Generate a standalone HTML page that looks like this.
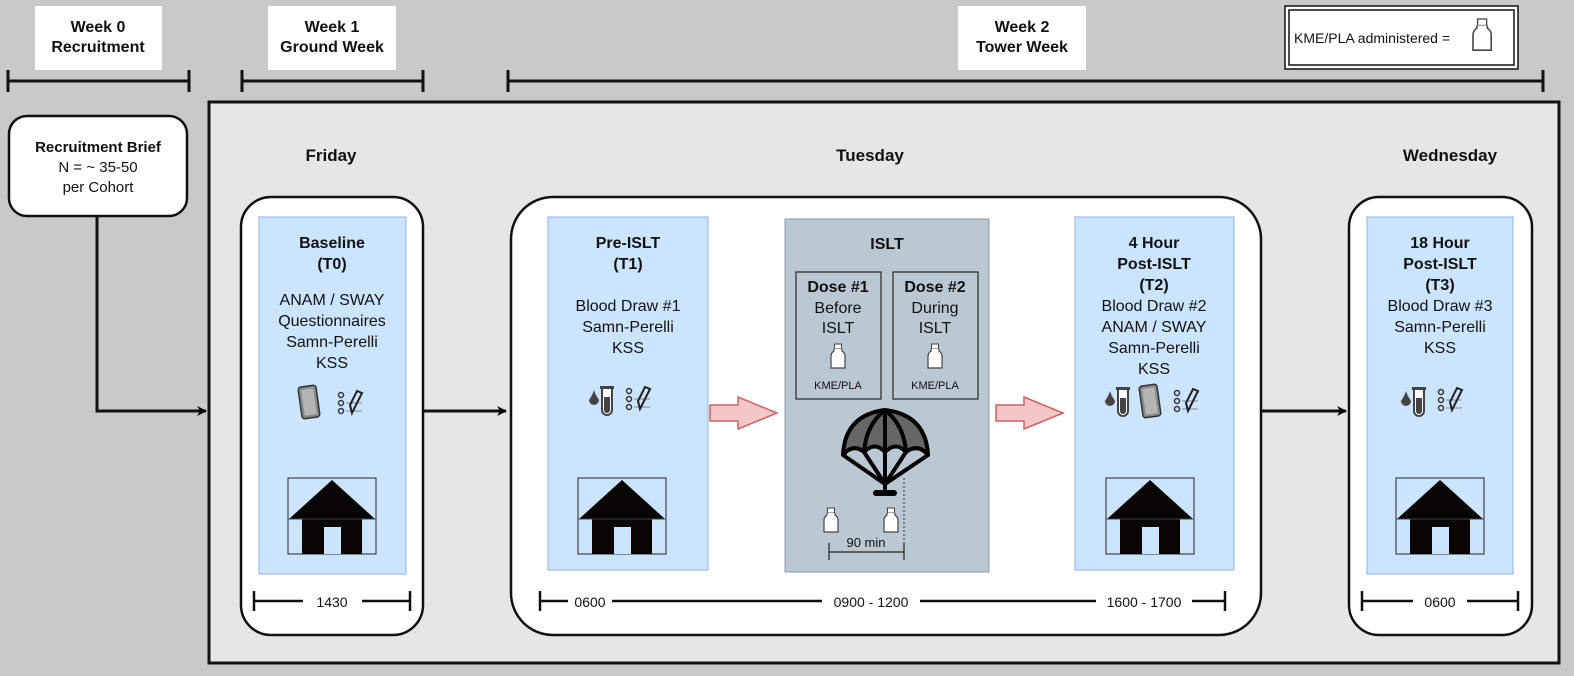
<!DOCTYPE html>
<html><head><meta charset="utf-8"><style>
html,body{margin:0;padding:0;background:#c9c9c9;}
svg{display:block;font-family:"Liberation Sans",Arial,sans-serif;}
</style></head><body>
<svg width="1574" height="676" viewBox="0 0 1574 676" xmlns="http://www.w3.org/2000/svg">
<defs>
  <marker id="ah" markerWidth="10" markerHeight="10" refX="9" refY="5" orient="auto" markerUnits="userSpaceOnUse">
    <path d="M0,0 L10,5 L0,10 L3,5 Z" fill="#000"/>
  </marker>
  <g id="bottle">
    <rect x="3.5" y="0" width="7" height="5" fill="#fff" stroke="#444" stroke-width="1"/>
    <path d="M3,5 L3,7 Q0,9 0,12 L0,24 L14,24 L14,12 Q14,9 11,7 L11,5" fill="#fff" stroke="#444" stroke-width="1.2"/>
  </g>
  <g id="tablet">
    <rect x="0" y="0" width="18" height="32" rx="3" fill="#8a8a8a" stroke="#333" stroke-width="1.5" transform="rotate(-8 9 16)"/>
    <rect x="3" y="3" width="12" height="26" rx="1" fill="#b5b5b5" transform="rotate(-8 9 16)"/>
  </g>
  <g id="tube">
    <path d="M0,14 Q4,8 5,4 Q6,8 10,14 A5,5 0 0 1 0,14Z" fill="#444"/>
    <rect x="11" y="0" width="14" height="3" fill="#444"/>
    <path d="M13,3 L13,24 A5,5 0 0 0 23,24 L23,3" fill="#fff" stroke="#444" stroke-width="2"/>
    <path d="M15,11 L15,24 A3,3 0 0 0 21,24 L21,11Z" fill="#444"/>
  </g>
  <g id="check">
    <circle cx="3" cy="4" r="2.5" fill="none" stroke="#333" stroke-width="1.5"/>
    <circle cx="3" cy="12" r="2.5" fill="none" stroke="#333" stroke-width="1.5"/>
    <circle cx="3" cy="20" r="2.5" fill="none" stroke="#333" stroke-width="1.5"/>
    <line x1="8" y1="12" x2="24" y2="12" stroke="#888" stroke-width="1"/>
    <line x1="8" y1="20" x2="24" y2="20" stroke="#888" stroke-width="1"/>
    <path d="M14,22 L12,14 L19,0 L24,2 L17,16 Z" fill="none" stroke="#222" stroke-width="2"/>
  </g>
  <g id="house">
    <rect x="0" y="0" width="88" height="76" fill="none" stroke="#444" stroke-width="1.2"/>
    <path d="M1,41 L44,2 L87,41 L74,41 L74,76 L14,76 L14,41 Z" fill="#0a0505"/>
    <rect x="36" y="49" width="17" height="27" fill="#cce5ff"/>
    <line x1="0" y1="41" x2="88" y2="41" stroke="#444" stroke-width="1"/>
  </g>
</defs>

<!-- background -->
<rect x="0" y="0" width="1574" height="676" fill="#c9c9c9"/>

<!-- week labels -->
<rect x="35" y="6" width="127" height="64" fill="#fff"/>
<text x="98" y="32" text-anchor="middle" font-size="16" font-weight="bold" fill="#111">Week 0</text>
<text x="98" y="52" text-anchor="middle" font-size="16" font-weight="bold" fill="#111">Recruitment</text>
<rect x="268" y="6" width="128" height="64" fill="#fff"/>
<text x="332" y="32" text-anchor="middle" font-size="16" font-weight="bold" fill="#111">Week 1</text>
<text x="332" y="52" text-anchor="middle" font-size="16" font-weight="bold" fill="#111">Ground Week</text>
<rect x="958" y="6" width="128" height="64" fill="#fff"/>
<text x="1022" y="32" text-anchor="middle" font-size="16" font-weight="bold" fill="#111">Week 2</text>
<text x="1022" y="52" text-anchor="middle" font-size="16" font-weight="bold" fill="#111">Tower Week</text>

<!-- legend -->
<rect x="1285" y="6" width="233" height="63" fill="#fff" stroke="#111" stroke-width="1.5"/>
<rect x="1289" y="10" width="225" height="55" fill="none" stroke="#111" stroke-width="1.5"/>
<text x="1294" y="43" font-size="14" fill="#111">KME/PLA administered =</text>
<use href="#bottle" transform="translate(1473,19) scale(1.3)"/>

<!-- week timelines -->
<g stroke="#111" stroke-width="3">
  <line x1="8" y1="81" x2="189" y2="81"/><line x1="8" y1="70" x2="8" y2="92"/><line x1="189" y1="70" x2="189" y2="92"/>
  <line x1="242" y1="81" x2="423" y2="81"/><line x1="242" y1="70" x2="242" y2="92"/><line x1="423" y1="70" x2="423" y2="92"/>
  <line x1="508" y1="81" x2="1543" y2="81"/><line x1="508" y1="70" x2="508" y2="92"/><line x1="1543" y1="70" x2="1543" y2="92"/>
</g>

<!-- big box -->
<rect x="209" y="102" width="1350" height="561" fill="#e6e6e6" stroke="#111" stroke-width="3"/>

<!-- recruitment -->
<rect x="9" y="116" width="178" height="100" rx="18" fill="#fff" stroke="#111" stroke-width="2.5"/>
<text x="98" y="152" text-anchor="middle" font-size="15" font-weight="bold" fill="#111">Recruitment Brief</text>
<text x="98" y="172" text-anchor="middle" font-size="15" fill="#111">N = ~ 35-50</text>
<text x="98" y="192" text-anchor="middle" font-size="15" fill="#111">per Cohort</text>
<path d="M97,217 L97,411 L206,411" fill="none" stroke="#111" stroke-width="3" marker-end="url(#ah)"/>

<!-- day labels -->
<text x="331" y="161" text-anchor="middle" font-size="17" font-weight="bold" fill="#111">Friday</text>
<text x="870" y="161" text-anchor="middle" font-size="17" font-weight="bold" fill="#111">Tuesday</text>
<text x="1450" y="161" text-anchor="middle" font-size="17" font-weight="bold" fill="#111">Wednesday</text>

<!-- Friday -->
<rect x="241" y="197" width="182" height="438" rx="30" fill="#fff" stroke="#111" stroke-width="2.5"/>
<rect x="259" y="217" width="147" height="357" fill="#cce5ff" stroke="#8fb3dd" stroke-width="1"/>
<g font-size="16" fill="#111" text-anchor="middle">
<text x="332" y="248" font-weight="bold">Baseline</text>
<text x="332" y="269" font-weight="bold">(T0)</text>
<text x="332" y="305">ANAM / SWAY</text>
<text x="332" y="326">Questionnaires</text>
<text x="332" y="347">Samn-Perelli</text>
<text x="332" y="368">KSS</text>
</g>
<use href="#tablet" transform="translate(300,386)"/>
<use href="#check" transform="translate(338,391)"/>
<use href="#house" transform="translate(288,478)"/>
<g stroke="#111" stroke-width="2.5"><line x1="254" y1="601" x2="303" y2="601"/><line x1="362" y1="601" x2="410" y2="601"/><line x1="254" y1="591" x2="254" y2="611"/><line x1="410" y1="591" x2="410" y2="611"/></g>
<text x="332" y="607" text-anchor="middle" font-size="14" fill="#111">1430</text>

<path d="M424,411 L506,411" stroke="#111" stroke-width="3" marker-end="url(#ah)"/>

<!-- Tuesday -->
<rect x="511" y="197" width="750" height="438" rx="42" fill="#fff" stroke="#111" stroke-width="2.5"/>
<rect x="548" y="217" width="160" height="353" fill="#cce5ff" stroke="#8fb3dd" stroke-width="1"/>
<g font-size="16" fill="#111" text-anchor="middle">
<text x="628" y="248" font-weight="bold">Pre-ISLT</text>
<text x="628" y="269" font-weight="bold">(T1)</text>
<text x="628" y="311">Blood Draw #1</text>
<text x="628" y="332">Samn-Perelli</text>
<text x="628" y="353">KSS</text>
</g>
<use href="#tube" transform="translate(589,386)"/>
<use href="#check" transform="translate(626,387)"/>
<use href="#house" transform="translate(578,478)"/>

<!-- pink arrows -->
<path d="M710,405 L738,405 L738,397 L777,413 L738,429 L738,421 L710,421 Z" fill="#f4c7c7" stroke="#d06060" stroke-width="1.5"/>
<path d="M996,405 L1024,405 L1024,397 L1063,413 L1024,429 L1024,421 L996,421 Z" fill="#f4c7c7" stroke="#d06060" stroke-width="1.5"/>

<!-- ISLT -->
<rect x="785" y="219" width="204" height="353" fill="#bac8d3" stroke="#8c9aa6" stroke-width="1"/>
<text x="887" y="249" text-anchor="middle" font-size="16" font-weight="bold" fill="#111">ISLT</text>
<rect x="796" y="272" width="85" height="127" fill="none" stroke="#333" stroke-width="1.3"/>
<rect x="893" y="272" width="85" height="127" fill="none" stroke="#333" stroke-width="1.3"/>
<g font-size="16" fill="#111" text-anchor="middle">
<text x="838" y="292" font-weight="bold">Dose #1</text>
<text x="838" y="313">Before</text>
<text x="838" y="333">ISLT</text>
<text x="935" y="292" font-weight="bold">Dose #2</text>
<text x="935" y="313">During</text>
<text x="935" y="333">ISLT</text>
</g>
<use href="#bottle" transform="translate(831,344)"/>
<use href="#bottle" transform="translate(928,344)"/>
<text x="838" y="389" text-anchor="middle" font-size="11" fill="#111">KME/PLA</text>
<text x="935" y="389" text-anchor="middle" font-size="11" fill="#111">KME/PLA</text>
<!-- parachute -->
<g stroke="#000" stroke-width="4" fill="none" stroke-linejoin="round">
  <path d="M843,455 Q845,415 885,410 Q926,415 928,455 Q918,443 906,452 Q896,441 885,452 Q875,441 864,452 Q853,443 843,455 Z" fill="#666"/>
  <path d="M885,410 Q866,425 864,452 M885,410 Q904,425 906,452 M885,410 L885,452" />
  <path d="M843,455 L885,484 M864,452 L885,484 M906,452 L885,484 M928,455 L885,484 M885,452 L885,484"/>
  <line x1="885" y1="484" x2="885" y2="492"/>
</g>
<rect x="873" y="490" width="24" height="6" rx="3" fill="#000"/>
<line x1="904" y1="478" x2="904" y2="551" stroke="#333" stroke-width="1" stroke-dasharray="2,2"/>
<use href="#bottle" transform="translate(824,508)"/>
<use href="#bottle" transform="translate(884,508)"/>
<g stroke="#222" stroke-width="1.2"><line x1="829" y1="552" x2="904" y2="552"/><line x1="829" y1="543" x2="829" y2="560"/><line x1="904" y1="543" x2="904" y2="560"/></g>
<text x="866" y="547" text-anchor="middle" font-size="13" fill="#111">90 min</text>

<!-- 4 hour -->
<rect x="1075" y="217" width="159" height="353" fill="#cce5ff" stroke="#8fb3dd" stroke-width="1"/>
<g font-size="16" fill="#111" text-anchor="middle">
<text x="1154" y="248" font-weight="bold">4 Hour</text>
<text x="1154" y="269" font-weight="bold">Post-ISLT</text>
<text x="1154" y="290" font-weight="bold">(T2)</text>
<text x="1154" y="311">Blood Draw #2</text>
<text x="1154" y="332">ANAM / SWAY</text>
<text x="1154" y="353">Samn-Perelli</text>
<text x="1154" y="374">KSS</text>
</g>
<use href="#tube" transform="translate(1105,387)"/>
<use href="#tablet" transform="translate(1141,385)"/>
<use href="#check" transform="translate(1174,389)"/>
<use href="#house" transform="translate(1106,478)"/>

<g stroke="#111" stroke-width="2.5">
  <line x1="540" y1="601" x2="568" y2="601"/><line x1="612" y1="601" x2="822" y2="601"/><line x1="920" y1="601" x2="1096" y2="601"/><line x1="1192" y1="601" x2="1225" y2="601"/>
  <line x1="540" y1="591" x2="540" y2="611"/><line x1="1225" y1="591" x2="1225" y2="611"/>
</g>
<text x="590" y="607" text-anchor="middle" font-size="14" fill="#111">0600</text>
<text x="871" y="607" text-anchor="middle" font-size="14" fill="#111">0900 - 1200</text>
<text x="1144" y="607" text-anchor="middle" font-size="14" fill="#111">1600 - 1700</text>

<path d="M1262,411 L1346,411" stroke="#111" stroke-width="3" marker-end="url(#ah)"/>

<!-- Wednesday -->
<rect x="1349" y="197" width="183" height="438" rx="30" fill="#fff" stroke="#111" stroke-width="2.5"/>
<rect x="1367" y="217" width="146" height="357" fill="#cce5ff" stroke="#8fb3dd" stroke-width="1"/>
<g font-size="16" fill="#111" text-anchor="middle">
<text x="1440" y="248" font-weight="bold">18 Hour</text>
<text x="1440" y="269" font-weight="bold">Post-ISLT</text>
<text x="1440" y="290" font-weight="bold">(T3)</text>
<text x="1440" y="311">Blood Draw #3</text>
<text x="1440" y="332">Samn-Perelli</text>
<text x="1440" y="353">KSS</text>
</g>
<use href="#tube" transform="translate(1401,387)"/>
<use href="#check" transform="translate(1438,388)"/>
<use href="#house" transform="translate(1396,478)"/>
<g stroke="#111" stroke-width="2.5"><line x1="1362" y1="601" x2="1413" y2="601"/><line x1="1467" y1="601" x2="1518" y2="601"/><line x1="1362" y1="591" x2="1362" y2="611"/><line x1="1518" y1="591" x2="1518" y2="611"/></g>
<text x="1440" y="607" text-anchor="middle" font-size="14" fill="#111">0600</text>
</svg>
</body></html>
